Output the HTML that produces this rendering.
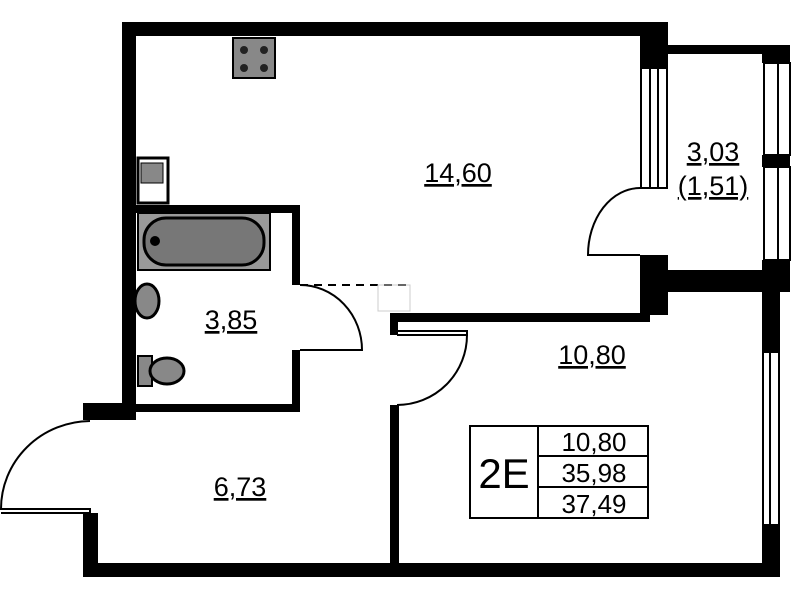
<!DOCTYPE html>
<html><head><style>html,body{margin:0;padding:0;background:#fff}svg{display:block}</style></head><body>
<svg width="799" height="600" viewBox="0 0 799 600" xmlns="http://www.w3.org/2000/svg">
<rect width="799" height="600" fill="#fff"/>
<g fill="#000">
<rect x="122" y="22" width="546" height="14"/>
<rect x="122" y="22" width="14" height="398"/>
<rect x="83" y="403" width="53" height="17"/>
<rect x="83" y="513" width="15" height="64"/>
<rect x="83" y="563" width="697" height="14"/>
<rect x="762" y="290" width="18" height="62"/>
<rect x="762" y="525" width="18" height="52"/>
<rect x="640" y="22" width="28" height="46"/>
<rect x="640" y="255" width="28" height="60"/>
<rect x="668" y="45" width="122" height="9"/>
<rect x="762" y="45" width="28" height="18"/>
<rect x="762" y="155" width="28" height="12"/>
<rect x="762" y="260" width="28" height="12"/>
<rect x="640" y="270" width="150" height="22"/>
<rect x="762" y="292" width="18" height="30"/>
<rect x="390" y="313" width="260" height="9"/>
<rect x="390" y="313" width="8" height="22"/>
<rect x="390" y="405" width="9" height="160"/>
<rect x="136" y="205" width="164" height="8"/>
<rect x="292" y="205" width="8" height="80"/>
<rect x="292" y="350" width="8" height="62"/>
<rect x="136" y="404" width="164" height="8"/>
</g>
<g fill="#fff" stroke="#000" stroke-width="2">
<rect x="641" y="68" width="26" height="120"/>
<rect x="764" y="63" width="26" height="92"/>
<rect x="764" y="167" width="26" height="93"/>
<rect x="763" y="352" width="16" height="173"/>
</g>
<g stroke="#000" stroke-width="2">
<line x1="650" y1="68" x2="650" y2="188"/><line x1="658" y1="68" x2="658" y2="188"/>
<line x1="778" y1="63" x2="778" y2="260"/>
<line x1="770" y1="352" x2="770" y2="525"/>
</g>
<g fill="none" stroke="#000" stroke-width="2">
<path d="M640 188 A52 67 0 0 0 588 255 L640 255"/>
<path d="M300 285 A62 65 0 0 1 362 350 L300 350"/>
<path d="M397 331 L467 331 L467 335 L397 335"/>
<path d="M467 335 A70 70 0 0 1 397 405"/>
<path d="M90 421 A90 88 0 0 0 1 509 L90 509 L90 513 L1 513"/>
</g>
<line x1="300" y1="285" x2="408" y2="285" stroke="#000" stroke-width="2" stroke-dasharray="8,6"/>
<rect x="378" y="285" width="32" height="26" fill="none" stroke="#ccc" stroke-width="1"/>
<rect x="233" y="38" width="42" height="40" fill="#888" stroke="#000" stroke-width="2"/>
<g fill="#222"><circle cx="244" cy="50" r="4"/><circle cx="264" cy="50" r="4"/><circle cx="244" cy="68" r="4"/><circle cx="264" cy="68" r="4"/></g>
<rect x="138" y="158" width="30" height="45" fill="#fff" stroke="#000" stroke-width="3"/>
<rect x="141" y="163" width="22" height="20" fill="#888" stroke="#000" stroke-width="1"/>
<rect x="138" y="213" width="132" height="57" fill="#999" stroke="#000" stroke-width="2"/>
<rect x="144" y="218" width="120" height="47" rx="22" fill="#777" stroke="#000" stroke-width="3"/>
<circle cx="155" cy="241" r="5" fill="#000"/>
<ellipse cx="147" cy="301" rx="12" ry="17" fill="#888" stroke="#000" stroke-width="3"/>
<rect x="138" y="356" width="14" height="30" fill="#888" stroke="#000" stroke-width="2"/>
<ellipse cx="167" cy="371" rx="17" ry="13" fill="#888" stroke="#000" stroke-width="3"/>
<g font-family="Liberation Sans, sans-serif" font-size="27" text-anchor="middle" text-decoration="underline" fill="#000">
<text x="458" y="182">14,60</text>
<text x="231" y="329">3,85</text>
<text x="592" y="364">10,80</text>
<text x="240" y="496">6,73</text>
<text x="713" y="161">3,03</text>
<text x="713" y="195">(1,51)</text>
</g>
<g fill="none" stroke="#000" stroke-width="2">
<rect x="470" y="426" width="178" height="92"/>
<line x1="538" y1="426" x2="538" y2="518"/>
<line x1="538" y1="456" x2="648" y2="456"/>
<line x1="538" y1="487" x2="648" y2="487"/>
</g>
<g font-family="Liberation Sans, sans-serif" fill="#000" text-anchor="middle">
<text x="504" y="488" font-size="42">2E</text>
<text x="594" y="451" font-size="26">10,80</text>
<text x="594" y="482" font-size="26">35,98</text>
<text x="594" y="513" font-size="26">37,49</text>
</g>
</svg>
</body></html>
